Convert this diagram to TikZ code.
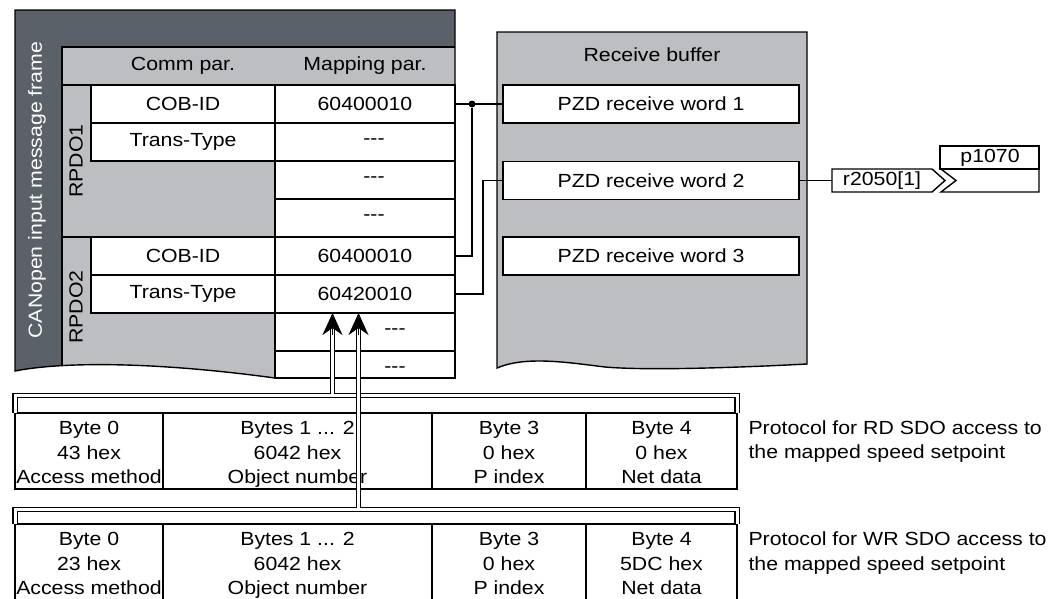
\documentclass[tikz,border=0pt]{standalone}
\usepackage{fontspec}
\setmainfont[FakeStretch=1.12]{Liberation Sans}
\usetikzlibrary{arrows.meta}
\definecolor{framedark}{RGB}{90, 97, 104}
\definecolor{framelight}{RGB}{188, 190, 193}
\newcommand{\bytestrut}{\rule[-4.5pt]{0pt}{25pt}}

\begin{document}
\begin{tikzpicture}[x=1pt, y=-1pt, font=\fontsize{19}{24.5}\selectfont,
    cell/.style={draw, fill=white, line width=1.4pt, inner sep=0pt, outer sep=0pt, minimum height=38pt},
    commcell/.style={cell, minimum width=184pt},
    mapcell/.style={cell, minimum width=180pt},
    pzdcell/.style={cell, minimum width=296pt},
    bytecell/.style={cell, align=center, minimum height=76pt},
    wire/.style={line width=1.4pt},
    dbl/.style={double, double distance=3pt, line width=1.1pt},
    headarrow/.style={-{Stealth[length=22pt, width=20pt, inset=7pt]}, line width=1.1pt},
    joint/.style={circle, fill, inner sep=0pt, minimum size=7pt}]
  \useasboundingbox (0,0) rectangle (1059,598);
  \fill[white] (0,0) rectangle (1059,598);
  \clip (0,0) rectangle (1059,598);

  % CANopen input message frame
  \fill[framelight] (15,10) -- (455,10) -- (455,378) -- (275,378) .. controls (150,361) and (60,362) .. (15,371) -- cycle;
  \begin{scope}
    \clip (15,10) -- (455,10) -- (455,378) -- (275,378) .. controls (150,361) and (60,362) .. (15,371) -- cycle;
    \fill[framedark] (15,10) rectangle (455,47);
    \fill[framedark] (15,10) rectangle (62,400);
    \draw[wire] (455,47) -- (62,47) -- (62,400);
  \end{scope}
  \draw[wire] (15,10) -- (455,10) -- (455,378) -- (275,378) .. controls (150,361) and (60,362) .. (15,371) -- cycle;
  \node[rotate=90, text=white] (frametitle) at (37,190) {CANopen input message frame};
  \node (commhead) at (183,66) {Comm par.};
  \node (maphead) at (365,66) {Mapping par.};
  \draw[wire] (62,85) -- (91,85);
  \draw[wire] (62,237) -- (91,237);
  \node[rotate=90] (rpdo1) at (76,161) {RPDO1};
  \node[rotate=90] (rpdo2) at (76,307) {RPDO2};

  % RPDO1 / RPDO2 cells
  \node[commcell] (c1) at (183,104) {COB-ID};
  \node[commcell] (c2) at (183,142) {Trans-Type};
  \node[commcell] (c5) at (183,256) {COB-ID};
  \node[commcell] (c6) at (183,294) {Trans-Type};
  \node[mapcell] (m1) at (365,104) {60400010};
  \node[mapcell] (m2) at (365,142) {};
  \node[mapcell] (m3) at (365,180) {};
  \node[mapcell] (m4) at (365,218) {};
  \node[mapcell] (m5) at (365,256) {60400010};
  \node[mapcell] (m6) at (365,294) {60420010};
  \node[mapcell] (m7) at (365,332) {};
  \node[mapcell, minimum height=27pt] (m8) at (365,364.5) {};
  \node (d2) at (374,142) {-{}-{}-};
  \node (d3) at (374,180) {-{}-{}-};
  \node (d4) at (374,218) {-{}-{}-};
  \node (d7) at (395,332) {-{}-{}-};
  \node (d8) at (395,370) {-{}-{}-};

  % Receive buffer
  \fill[framelight] (497,32) -- (807,32) -- (807,364) .. controls (750,367) and (650,371) .. (605,367) .. controls (565,362) and (525,356) .. (497,368) -- cycle;
  \draw[wire] (497,32) -- (807,32) -- (807,364) .. controls (750,367) and (650,371) .. (605,367) .. controls (565,362) and (525,356) .. (497,368) -- cycle;
  \node (buftitle) at (652,55) {Receive buffer};
  \node[pzdcell] (pzd1) at (651,104) {PZD receive word 1};
  \node[pzdcell] (pzd2) at (651,180.5) {PZD receive word 2};
  \node[pzdcell] (pzd3) at (651,256) {PZD receive word 3};

  % r2050[1] -> p1070
  \draw[wire, fill=white] (832,169) -- (932,169) -- (945,180.5) -- (932,192) -- (832,192) -- cycle;
  \node (r2050) at (882,180.5) {r2050[1]};
  \coordinate (r2050in) at (832,180.5);
  \draw[wire, fill=white] (941,169) -- (1039,169) -- (1039,192) -- (941,192) -- (956,180.5) -- cycle;
  \draw[wire, fill=white] (940,146) rectangle (1039,169);
  \node (p1070) at (990,157.5) {p1070};

  % mapping connections
  \node[joint] (junc) at (472,104) {};
  \draw[wire] (m1.east) -- (pzd1.west);
  \draw[wire] (junc) |- (m5.east);
  \draw[wire] (m6.east) -- ++(28,0) |- (pzd2.west);
  \draw[wire] (pzd2.east) -- (r2050in);

  % RD SDO protocol
  \node[bytecell, minimum width=148pt] (rd0) at (89,451) {\bytestrut Byte 0\\43 hex\\Access method\bytestrut};
  \node[bytecell, minimum width=269pt] (rd12) at (297.5,451) {\bytestrut Bytes 1 ... 2\\6042 hex\\Object number\bytestrut};
  \node[bytecell, minimum width=154pt] (rd3) at (509,451) {\bytestrut Byte 3\\0 hex\\P index\bytestrut};
  \node[bytecell, minimum width=151pt] (rd4) at (661.5,451) {\bytestrut Byte 4\\0 hex\\Net data\bytestrut};
  \node[anchor=west, align=left] (rdnote) at (745,441.5) {Protocol for RD SDO access to\\the mapped speed setpoint};

  % WR SDO protocol
  \node[bytecell, minimum width=148pt] (wr0) at (89,562) {\bytestrut Byte 0\\23 hex\\Access method\bytestrut};
  \node[bytecell, minimum width=269pt] (wr12) at (297.5,562) {\bytestrut Bytes 1 ... 2\\6042 hex\\Object number\bytestrut};
  \node[bytecell, minimum width=154pt] (wr3) at (509,562) {\bytestrut Byte 3\\0 hex\\P index\bytestrut};
  \node[bytecell, minimum width=151pt] (wr4) at (661.5,562) {\bytestrut Byte 4\\5DC hex\\Net data\bytestrut};
  \node[anchor=west, align=left] (wrnote) at (745,553) {Protocol for WR SDO access to\\the mapped speed setpoint};

  % double lines to 60420010
  \coordinate (rdtip) at ([xshift=-32.5pt]m6.south);
  \coordinate (wrtip) at ([xshift=-6.5pt]m6.south);
  \draw[dbl] (rd0.north west) -- ++(0,-17.5) -| (rd4.north east)
    (rdtip |- rd0.north) ++(0,-17.5) -- ([yshift=-14pt]rdtip);
  \draw[dbl] (wr0.north west) -- ++(0,-14.5) -| (wr4.north east)
    (wrtip |- wr0.north) ++(0,-14.5) -- ([yshift=-14pt]wrtip);
  \draw[headarrow] ([yshift=-22pt]rdtip) -- (rdtip);
  \draw[headarrow] ([yshift=-22pt]wrtip) -- (wrtip);
\end{tikzpicture}
\end{document}
